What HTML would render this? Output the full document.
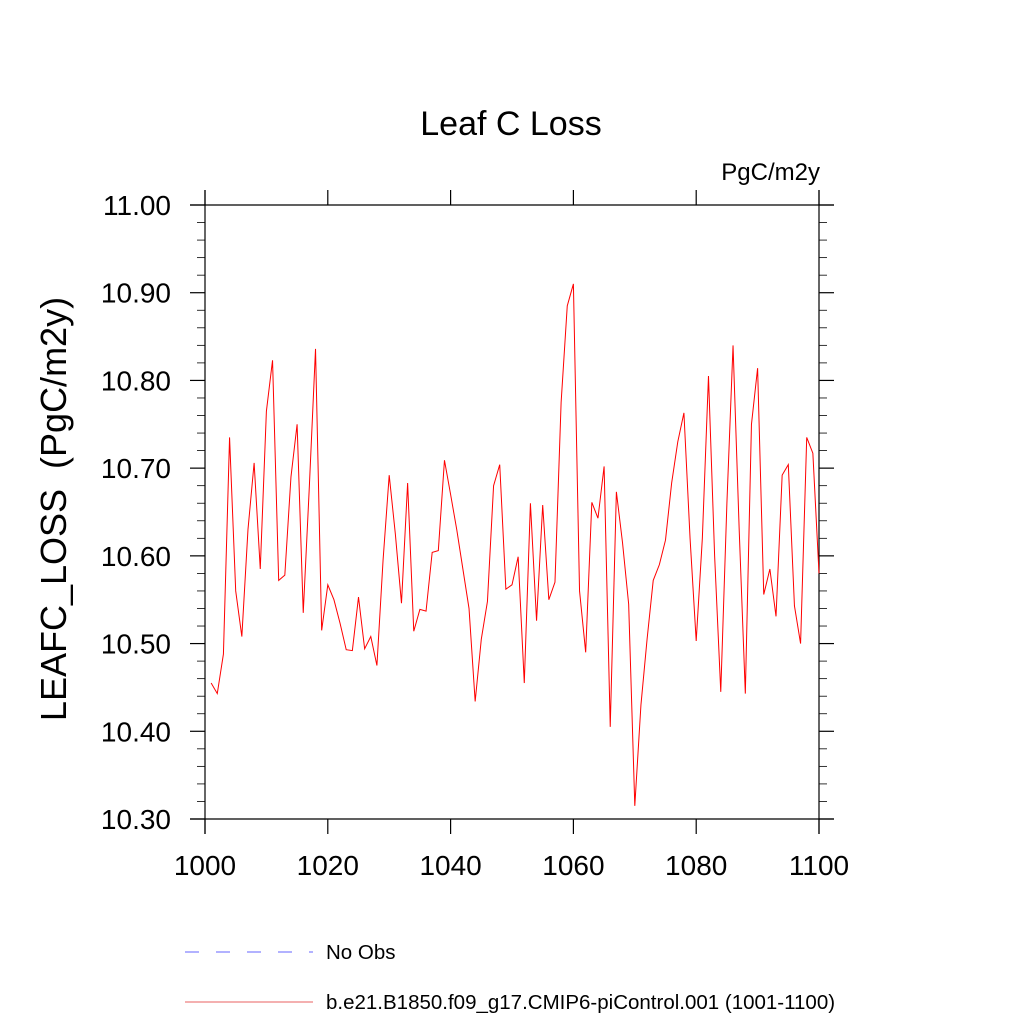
<!DOCTYPE html>
<html><head><meta charset="utf-8"><style>
body{margin:0;background:#fff}
svg text{font-family:"Liberation Sans",sans-serif;fill:#000}
</style></head><body>
<svg width="1024" height="1024" viewBox="0 0 1024 1024" xmlns="http://www.w3.org/2000/svg">
<text x="511" y="135" font-size="34" text-anchor="middle">Leaf C Loss</text>
<text x="820" y="180" font-size="24" text-anchor="end">PgC/m2y</text>
<text transform="translate(66,509) rotate(-90)" font-size="36" text-anchor="middle">LEAFC_LOSS&#160; (PgC/m2y)</text>
<g id="axes"></g>
<g id="series"></g>
<g>
<line x1="185" y1="952" x2="313" y2="952" stroke="#6666ff" stroke-width="1" stroke-dasharray="14,17"/>
<text x="326" y="959" font-size="20.5">No Obs</text>
<line x1="185" y1="1002" x2="313" y2="1002" stroke="#e86060" stroke-width="1"/>
<text x="326" y="1009" font-size="20.5">b.e21.B1850.f09_g17.CMIP6-piControl.001 (1001-1100)</text>
</g>
</svg>
<script>
const years = [];
for (let y = 1001; y <= 1100; y++) years.push(y);
const values = [10.455,10.443,10.488,10.735,10.56,10.508,10.63,10.706,10.585,10.765,
10.823,10.572,10.578,10.69,10.75,10.535,10.68,10.836,10.515,10.567,
10.55,10.523,10.493,10.492,10.553,10.494,10.508,10.475,10.595,10.692,
10.625,10.546,10.683,10.514,10.539,10.537,10.604,10.606,10.709,10.67,
10.63,10.585,10.54,10.434,10.505,10.548,10.68,10.704,10.562,10.567,
10.599,10.455,10.66,10.526,10.658,10.55,10.57,10.775,10.885,10.91,
10.56,10.49,10.661,10.643,10.702,10.405,10.673,10.615,10.545,10.315,
10.43,10.505,10.572,10.59,10.618,10.683,10.73,10.763,10.62,10.503,
10.62,10.805,10.6,10.445,10.66,10.84,10.63,10.443,10.75,10.814,
10.556,10.585,10.531,10.692,10.704,10.543,10.5,10.735,10.717,10.58];
const xTicks = [1000,1020,1040,1060,1080,1100];
const yTicks = [10.30,10.40,10.50,10.60,10.70,10.80,10.90,11.00];
const L=205,R=819,T=205,B=819,X0=1000,X1=1100,Y0=10.3,Y1=11.0;
const xs=v=>L+(v-X0)/(X1-X0)*(R-L);
const ys=v=>B-(v-Y0)/(Y1-Y0)*(B-T);
const NS="http://www.w3.org/2000/svg";
const ax=document.getElementById('axes');
function ln(x1,y1,x2,y2,name,w){const e=document.createElementNS(NS,'line');
e.setAttribute('x1',x1);e.setAttribute('y1',y1);e.setAttribute('x2',x2);e.setAttribute('y2',y2);
e.setAttribute('stroke','#000');e.setAttribute('stroke-width',w||1.2);


ax.appendChild(e);}
ln(L-15,T,R+15,T,'top-axis');ln(L-15,B,R+15,B,'bottom-axis');
ln(L,T-15,L,B+15,'left-axis');ln(R,T-15,R,B+15,'right-axis');
xTicks.forEach(v=>{const x=xs(v);ln(x,B,x,B+15,'x-tick');ln(x,T,x,T-15,'x-tick-top');
const t=document.createElementNS(NS,'text');t.setAttribute('x',x);t.setAttribute('y',B+56);
t.setAttribute('font-size','28');t.setAttribute('text-anchor','middle');t.textContent=v;


ax.appendChild(t);});
for(let i=0;i<=35;i++){const v=Y0+i*0.02,y=ys(v),maj=i%5===0;const len=maj?15:8;
ln(L-len,y,L,y,'y-tick',maj?1.2:0.8);ln(R,y,R+len,y,'y-tick-right',maj?1.2:0.8);}
yTicks.forEach(v=>{const t=document.createElementNS(NS,'text');t.setAttribute('x',L-34);t.setAttribute('y',ys(v)+10);
t.setAttribute('font-size','28');t.setAttribute('text-anchor','end');t.textContent=v.toFixed(2);


ax.appendChild(t);});
const p=document.createElementNS(NS,'polyline');
p.setAttribute('points',years.map((y,i)=>xs(y)+','+ys(values[i])).join(' '));
p.setAttribute('fill','none');p.setAttribute('stroke','#ff0000');p.setAttribute('stroke-width','1');


document.getElementById('series').appendChild(p);
</script>
</body></html>
